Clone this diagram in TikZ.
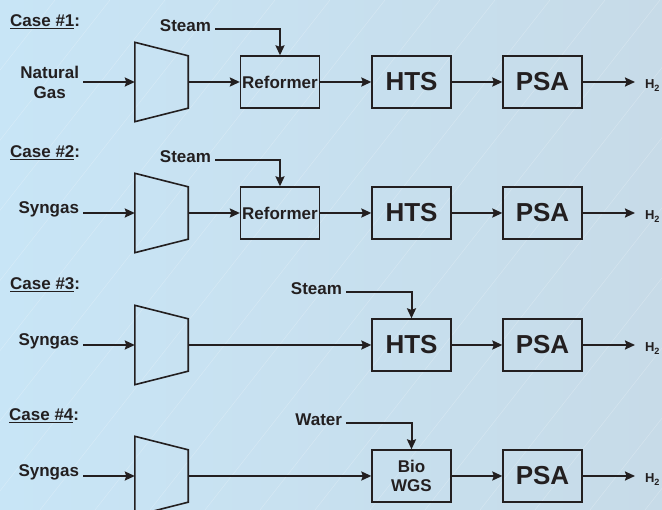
\documentclass[tikz,border=0pt]{standalone}
\usepackage{fontspec}
\setmainfont{Liberation Sans}
\usetikzlibrary{arrows.meta}
\definecolor{ink}{RGB}{35,31,32}
\definecolor{skyleft}{RGB}{200,229,246}
\definecolor{skyright}{RGB}{199,219,232}

\begin{document}
\begin{tikzpicture}[x=1pt, y=-1pt,
    lbl/.style={font=\bfseries\fontsize{17}{20}\selectfont, inner sep=0pt, text=ink},
    casehead/.style={lbl, anchor=base west},
    stream/.style={lbl, anchor=base east, outer xsep=4pt},
    feed/.style={lbl, anchor=east, outer xsep=4pt, align=center},
    unit/.style={draw=ink, line width=1.3pt, minimum width=79pt, minimum height=52pt,
      inner sep=0pt, text=ink, align=center, font=\bfseries\fontsize{17}{19}\selectfont},
    bigunit/.style={unit, font=\bfseries\fontsize{26}{28}\selectfont},
    comp/.style={minimum width=53pt, minimum height=79pt, inner sep=0pt},
    product/.style={font=\bfseries\fontsize{13}{15}\selectfont, inner sep=0pt,
      anchor=base west, outer xsep=10pt, text=ink},
    flow/.style={draw=ink, line width=2pt, -{Stealth[length=10pt, width=9pt, inset=1.5pt]}},
  ]
  \useasboundingbox (0,0) rectangle (662,510);
  \clip (0,0) rectangle (662,510);
  \shade[left color=skyleft, right color=skyright] (0,0) rectangle (662,510);
  \foreach \x in {-400,-345,...,660}
    \draw[white, opacity=0.25, line width=0.5pt] (\x,510) -- ++(400,-510);

  % case 1
  \node[casehead] (h1) at (10,27) {\underline{Case \#1}:};
  \node[stream] (st1) at (215,32) {Steam};
  \node[feed] (ng1) at (83,82) {Natural\\Gas};
  \node[comp] (c1) at (161.5,82) {};
  \node[unit] (rf1) at (280,82) {Reformer};
  \node[bigunit] (hts1) at (411.5,82) {HTS};
  \node[bigunit] (psa1) at (542.5,82) {PSA};
  \node[product] (p1) at (635,89) {H\textsubscript{2}};

  % case 2
  \node[casehead] (h2) at (10,158) {\underline{Case \#2}:};
  \node[stream] (st2) at (215,163) {Steam};
  \node[stream] (sg2) at (83,214) {Syngas};
  \node[comp] (c2) at (161.5,213) {};
  \node[unit] (rf2) at (280,213) {Reformer};
  \node[bigunit] (hts2) at (411.5,213) {HTS};
  \node[bigunit] (psa2) at (542.5,213) {PSA};
  \node[product] (p2) at (635,220) {H\textsubscript{2}};

  % case 3
  \node[casehead] (h3) at (10,290) {\underline{Case \#3}:};
  \node[stream] (st3) at (346,295) {Steam};
  \node[stream] (sg3) at (83,346) {Syngas};
  \node[comp] (c3) at (161.5,345) {};
  \node[bigunit] (hts3) at (411.5,345) {HTS};
  \node[bigunit] (psa3) at (542.5,345) {PSA};
  \node[product] (p3) at (635,352) {H\textsubscript{2}};

  % case 4
  \node[casehead] (h4) at (9,421) {\underline{Case \#4}:};
  \node[stream] (wt4) at (346,426) {Water};
  \node[stream] (sg4) at (83,477) {Syngas};
  \node[comp] (c4) at (161.5,476) {};
  \node[unit] (wgs4) at (411.5,476) {Bio\\WGS};
  \node[bigunit] (psa4) at (542.5,476) {PSA};
  \node[product] (p4) at (635,483) {H\textsubscript{2}};

  % compressors
  \foreach \c in {c1,c2,c3,c4}
    \draw[ink, line width=1.6pt] (\c.north west) -- ([yshift=-13.5pt]\c.north east)
      -- ([yshift=13.5pt]\c.south east) -- (\c.south west) -- cycle;

  \draw[flow] (ng1.east |- c1.west) -- (c1.west);
  \draw[flow] (c1.east) -- (rf1.west);
  \draw[flow] (rf1.east) -- (hts1.west);
  \draw[flow] (hts1.east) -- (psa1.west);
  \draw[flow] (psa1.east) -- (psa1.east -| p1.west);
  \draw[flow] ([yshift=-3pt]st1.east) -| (rf1.north);

  \draw[flow] (sg2.east |- c2.west) -- (c2.west);
  \draw[flow] (c2.east) -- (rf2.west);
  \draw[flow] (rf2.east) -- (hts2.west);
  \draw[flow] (hts2.east) -- (psa2.west);
  \draw[flow] (psa2.east) -- (psa2.east -| p2.west);
  \draw[flow] ([yshift=-3pt]st2.east) -| (rf2.north);

  \draw[flow] (sg3.east |- c3.west) -- (c3.west);
  \draw[flow] (c3.east) -- (hts3.west);
  \draw[flow] (hts3.east) -- (psa3.west);
  \draw[flow] (psa3.east) -- (psa3.east -| p3.west);
  \draw[flow] ([yshift=-3pt]st3.east) -| (hts3.north);

  \draw[flow] (sg4.east |- c4.west) -- (c4.west);
  \draw[flow] (c4.east) -- (wgs4.west);
  \draw[flow] (wgs4.east) -- (psa4.west);
  \draw[flow] (psa4.east) -- (psa4.east -| p4.west);
  \draw[flow] ([yshift=-3pt]wt4.east) -| (wgs4.north);
\end{tikzpicture}
\end{document}
